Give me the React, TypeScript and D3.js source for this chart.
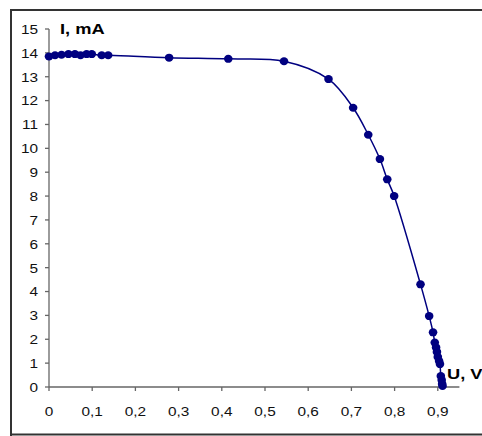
import React from "react";
import * as d3 from "d3";

const voltage = [0, 0.014, 0.029, 0.045, 0.06, 0.073, 0.087, 0.099, 0.122, 0.137, 0.278, 0.415, 0.544, 0.647, 0.704, 0.739, 0.766, 0.783, 0.799, 0.86, 0.88, 0.889, 0.893, 0.896, 0.898, 0.9, 0.903, 0.905, 0.907, 0.909, 0.91, 0.911];
const current = [13.85, 13.9, 13.92, 13.95, 13.95, 13.9, 13.95, 13.95, 13.9, 13.9, 13.8, 13.75, 13.65, 12.9, 11.7, 10.57, 9.55, 8.7, 8.0, 4.3, 2.97, 2.29, 1.86, 1.66, 1.47, 1.26, 1.09, 0.96, 0.46, 0.29, 0.13, 0.04];
const xTicks = [0, 0.1, 0.2, 0.3, 0.4, 0.5, 0.6, 0.7, 0.8, 0.9];
const yTicks = [0, 1, 2, 3, 4, 5, 6, 7, 8, 9, 10, 11, 12, 13, 14, 15];
const xTitle = "U, V";
const yTitle = "I, mA";

export default function App() {
  const x = d3.scaleLinear().domain([0, 0.95]).range([49, 49 + 0.95 * 432]);
  const y = d3.scaleLinear().domain([0, 15]).range([387, 29]);
  const pts = voltage.map((v, i) => [v, current[i]] as [number, number]);
  const line = d3
    .line<[number, number]>()
    .x((d) => x(d[0]))
    .y((d) => y(d[1]))
    .curve(d3.curveCatmullRom.alpha(0.5));
  const fmt = (v: number) => (v === 0 ? "0" : d3.format(".1f")(v).replace(".", ","));
  const axisColor = "#666";
  const font = "'Liberation Sans', Arial, sans-serif";
  const sx = 1.14;
  return (
    <svg
      width={482}
      height={436}
      style={{ position: "absolute", left: 0, top: 0 }}
      fontFamily={font}
    >
      <rect x={0} y={0} width={482} height={436} fill="#fff" />
      <path d="M11,436 L11,10 L484,10" fill="none" stroke="#333" strokeWidth={2} />
      <path d="M11,434.5 L484,434.5" fill="none" stroke="#333" strokeWidth={2} />
      <line x1={x(0)} x2={x(0)} y1={y(15)} y2={y(0)} stroke={axisColor} strokeWidth={1.3} />
      <line x1={x(0)} x2={x(0.95)} y1={y(0)} y2={y(0)} stroke={axisColor} strokeWidth={1.3} />
      {yTicks.map((t) => (
        <g key={"y" + t}>
          <line x1={x(0) - 4} x2={x(0)} y1={y(t)} y2={y(t)} stroke={axisColor} strokeWidth={1.3} />
          <text
            transform={`translate(38,${y(t)}) scale(${sx},1)`}
            dy="0.36em"
            textAnchor="end"
            fontSize={13.5}
            fill="#111"
          >
            {t}
          </text>
        </g>
      ))}
      {xTicks.map((t) => (
        <g key={"x" + t}>
          <line x1={x(t)} x2={x(t)} y1={y(0)} y2={y(0) + 4} stroke={axisColor} strokeWidth={1.3} />
          <text
            transform={`translate(${x(t)},415.5) scale(${sx},1)`}
            textAnchor="middle"
            fontSize={13.5}
            fill="#111"
          >
            {fmt(t)}
          </text>
        </g>
      ))}
      <path d={line(pts) || ""} fill="none" stroke="#000080" strokeWidth={1.5} />
      {pts.map((p, i) => (
        <ellipse key={i} cx={x(p[0])} cy={y(p[1])} rx={4.3} ry={4} fill="#000080" />
      ))}
      <text transform="translate(60,34) scale(1.18,1)" fontSize={15.5} fontWeight="bold" fill="#000">
        {yTitle}
      </text>
      <text transform="translate(447,378.5) scale(1.18,1)" fontSize={15.5} fontWeight="bold" fill="#000">
        {xTitle}
      </text>
    </svg>
  );
}
